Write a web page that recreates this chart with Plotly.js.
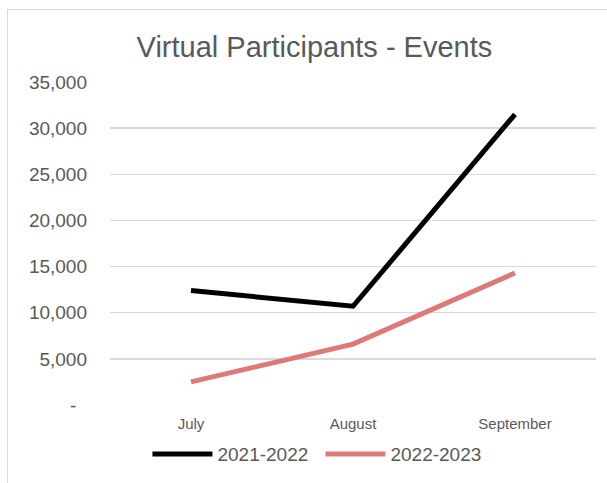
<!DOCTYPE html>
<html>
<head>
<meta charset="utf-8">
<script src="https://cdn.plot.ly/plotly-3.0.1.min.js"></script>
<style>
html,body{margin:0;padding:0;background:#fff;}
#frame{position:absolute;left:7px;top:9px;width:620px;height:500px;border:1px solid #d9d9d9;box-sizing:border-box;}
#chart{position:absolute;left:0;top:0;width:607px;height:483px;}
</style>
</head>
<body>
<div id="frame"></div>
<div id="chart"></div>
<script>
const months = ["July", "August", "September"];
const series2122 = [12400, 10700, 31500];
const series2223 = [2500, 6600, 14300];
const tickVals = [0, 5000, 10000, 15000, 20000, 25000, 30000, 35000];
const tickText = ["-  ", "5,000", "10,000", "15,000", "20,000", "25,000", "30,000", "35,000"];

const traces = [
  {x: months, y: series2122, name: "2021-2022", type: "scatter", mode: "lines",
   line: {color: "#000000", width: 5}},
  {x: months, y: series2223, name: "2022-2023", type: "scatter", mode: "lines",
   line: {color: "#DD7A78", width: 5}}
];

const layout = {
  width: 607, height: 483,
  paper_bgcolor: "rgba(0,0,0,0)", plot_bgcolor: "rgba(0,0,0,0)",
  margin: {l: 110, r: 11, t: 82, b: 77},
  font: {family: "Liberation Sans, Arial, sans-serif", color: "#595959"},
  title: {text: "Virtual Participants - Events", x: 0.518, xanchor: "center",
          y: 1 - 47/483, yanchor: "middle",
          font: {size: 29, color: "#595959"}},
  xaxis: {type: "category", range: [-0.5, 2.5], showgrid: false, zeroline: false, showline: false,
          ticks: "", ticklabelstandoff: 8, tickfont: {size: 15, color: "#595959"}, fixedrange: true},
  yaxis: {range: [0, 35000], tickvals: tickVals, ticktext: tickText,
          showgrid: true, gridcolor: "#d9d9d9", gridwidth: 1.3, zeroline: false,
          showline: false, ticks: "", ticklabelstandoff: 22,
          tickfont: {size: 19, color: "#595959"}},
  showlegend: true,
  legend: {orientation: "h", x: 0.433, xanchor: "center", y: -0.09, yanchor: "top",
           font: {size: 19, color: "#595959"}, itemwidth: 60,
           entrywidth: 98, entrywidthmode: "pixels"}
};

Plotly.newPlot("chart", traces, layout, {displayModeBar: false, staticPlot: true});
</script>
</body>
</html>
